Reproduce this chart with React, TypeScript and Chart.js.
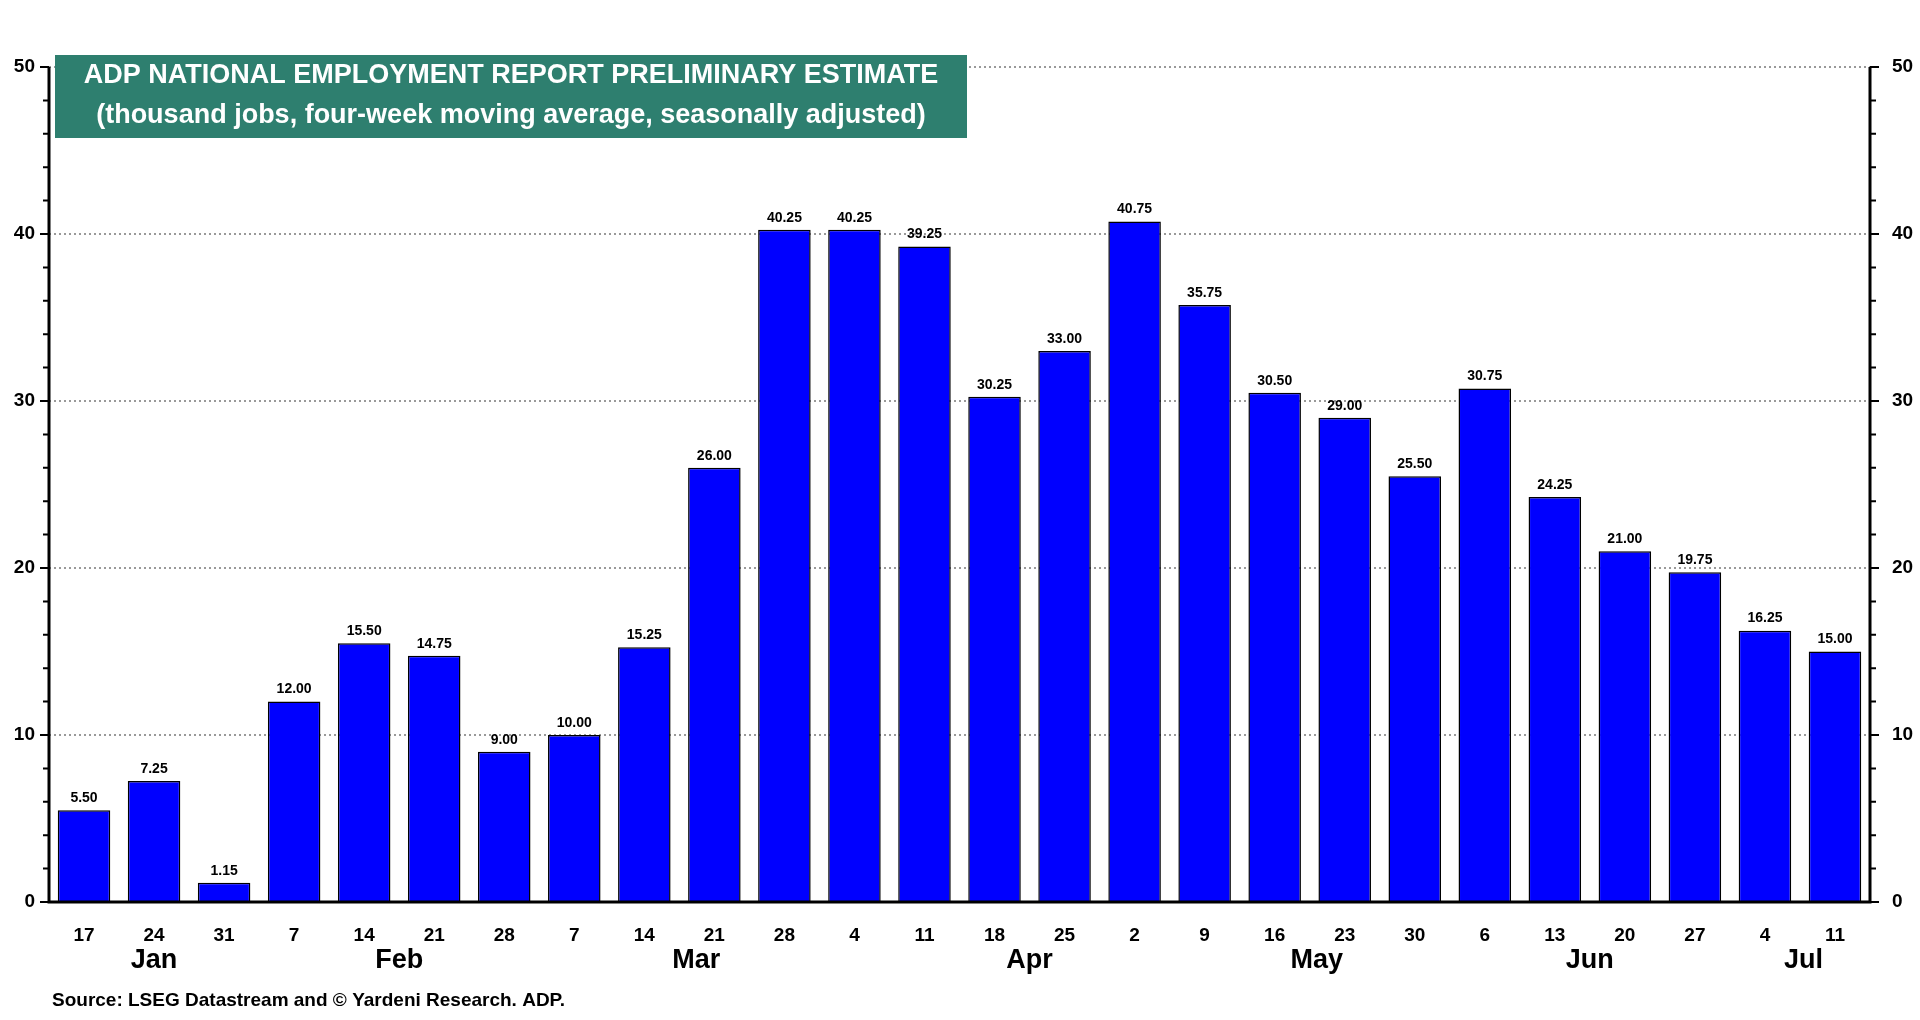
import React, { useEffect, useRef } from "react";
import { Chart, registerables } from "chart.js";
Chart.register(...registerables);

const days = ["17","24","31","7","14","21","28","7","14","21","28","4","11","18","25","2","9","16","23","30","6","13","20","27","4","11"];
const values = [5.5,7.25,1.15,12,15.5,14.75,9,10,15.25,26,40.25,40.25,39.25,30.25,33,40.75,35.75,30.5,29,25.5,30.75,24.25,21,19.75,16.25,15];
const months = ["Jan","Feb","Mar","Apr","May","Jun","Jul"];
const monthPos = [1,4.5,8.74,13.5,17.6,21.5,24.55];
const FONT = "'Liberation Sans', Arial, sans-serif";

export default function App() {
  const ref = useRef<HTMLCanvasElement>(null);
  useEffect(() => {
    const deco = {
      id: "deco",
      afterDatasetsDraw(c: any) {
        const ctx = c.ctx, a = c.chartArea, x = c.scales.x, y = c.scales.y;
        ctx.save();
        // data labels
        ctx.fillStyle = "#000";
        ctx.font = `bold 14px ${FONT}`;
        ctx.textAlign = "center";
        ctx.textBaseline = "bottom";
        values.forEach((v, i) => ctx.fillText(v.toFixed(2), x.getPixelForValue(i), y.getPixelForValue(v) - 5));
        // axes lines
        ctx.strokeStyle = "#000";
        ctx.lineWidth = 3;
        ctx.beginPath();
        ctx.moveTo(a.left, a.top); ctx.lineTo(a.left, a.bottom); ctx.lineTo(a.right, a.bottom); ctx.lineTo(a.right, a.top);
        ctx.stroke();
        // minor ticks
        ctx.lineWidth = 2;
        for (let v = 0; v <= 50; v += 2) {
          const py = y.getPixelForValue(v);
          const len = v % 10 === 0 ? 9 : 6;
          ctx.beginPath();
          ctx.moveTo(a.left, py); ctx.lineTo(a.left - len, py);
          ctx.moveTo(a.right, py); ctx.lineTo(a.right + len, py);
          ctx.stroke();
        }
        // month labels
        ctx.font = `bold 27px ${FONT}`;
        ctx.textBaseline = "middle";
        months.forEach((m, i) => ctx.fillText(m, x.getPixelForValue(monthPos[i]), 961));
        // source
        ctx.font = `bold 19px ${FONT}`;
        ctx.textAlign = "left";
        ctx.fillText("Source: LSEG Datastream and © Yardeni Research. ADP.", 52, 1001);
        // title box
        ctx.fillStyle = "#2E7F6F";
        ctx.fillRect(55, 55, 912, 83);
        ctx.fillStyle = "#fff";
        ctx.textAlign = "center";
        ctx.font = `bold 27px ${FONT}`;
        ctx.fillText("ADP NATIONAL EMPLOYMENT REPORT PRELIMINARY ESTIMATE", 511, 76);
        ctx.fillText("(thousand jobs, four-week moving average, seasonally adjusted)", 511, 116);
        ctx.restore();
      },
    };
    const tickFont = { family: FONT, size: 19, weight: "bold" as const };
    const chart = new Chart(ref.current!, {
      type: "bar",
      data: {
        labels: days,
        datasets: [{ data: values, backgroundColor: "#0000FF", borderColor: "#000", borderWidth: 1.5, categoryPercentage: 0.75, barPercentage: 1 }],
      },
      plugins: [deco],
      options: {
        animation: false,
        responsive: false,
        layout: { padding: { top: 67, right: 0, left: 0, bottom: 0 } },
        plugins: { legend: { display: false }, tooltip: { enabled: false } },
        scales: {
          x: {
            grid: { display: false },
            border: { display: false },
            ticks: { color: "#000", font: tickFont, padding: 14, maxRotation: 0, autoSkip: false },
            afterFit: (s: any) => { s.height = 118; },
          },
          y: {
            min: 0, max: 50,
            position: "left",
            grid: { color: "#999", lineWidth: 2, drawTicks: false, tickBorderDash: [], },
            border: { display: false, dash: [2, 3] },
            ticks: { stepSize: 10, color: "#000", font: tickFont, padding: 14 },
            afterFit: (s: any) => { s.width = 49; },
          },
          y2: {
            min: 0, max: 50,
            position: "right",
            grid: { display: false },
            border: { display: false },
            ticks: { stepSize: 10, color: "#000", font: tickFont, padding: 14 },
            afterFit: (s: any) => { s.width = 50; },
          },
        },
      } as any,
    });
    return () => chart.destroy();
  }, []);
  return (
    <div style={{ position: "absolute", left: 0, top: 0, width: 1920, height: 1020, background: "#fff" }}>
      <canvas ref={ref} width={1920} height={1020} style={{ width: 1920, height: 1020 }} />
    </div>
  );
}
